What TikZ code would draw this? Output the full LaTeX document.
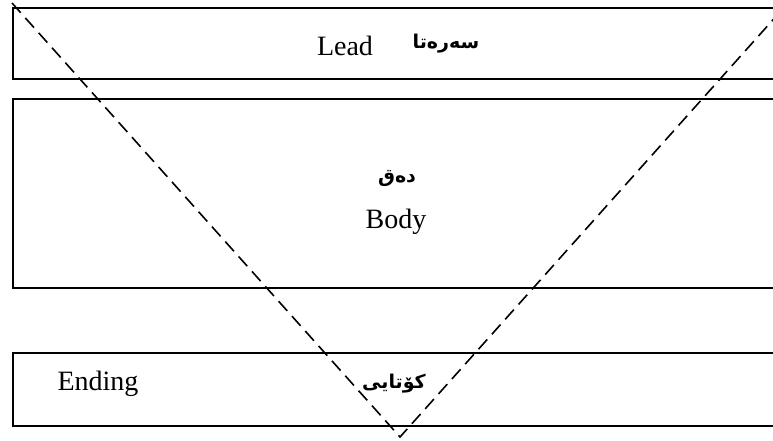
\documentclass[tikz,border=0pt]{standalone}
\usepackage{fontspec}
\setmainfont{Liberation Serif}
\newfontfamily\arabicfont[Script=Arabic]{DejaVu Sans}
\TeXXeTstate=1
\begin{document}
\begin{tikzpicture}[x=1pt,y=-1pt,
  box/.style={draw, line width=2pt, anchor=north west, inner sep=0pt},
  latin/.style={font=\fontsize{28}{30}\selectfont, inner sep=0pt, anchor=base},
  arab/.style={font=\arabicfont\bfseries\fontsize{19}{23}\selectfont, inner sep=0pt},
  vline/.style={line width=1.6pt, dash pattern=on 13pt off 7pt}]
\useasboundingbox (0,0) rectangle (773,440);
\clip (0,0) rectangle (773,440);
\node[box, minimum width=780pt, minimum height=71pt] (leadbox) at (12,7) {};
\node[box, minimum width=780pt, minimum height=189pt] (bodybox) at (12,98) {};
\node[box, minimum width=780pt, minimum height=73pt] (endbox) at (12,352) {};
\node[latin] (lead) at (345,55) {Lead};
\node[arab] (leadar) at (446,44) {\beginR سەرەتا\endR};
\node[arab] (bodyar) at (397,179) {\beginR دەق\endR};
\node[latin] (body) at (396,228) {Body};
\node[latin] (ending) at (98,390) {Ending};
\node[arab] (endar) at (394,384) {\beginR کۆتایی\endR};
\coordinate (tl) at (12,3);
\coordinate (apex) at (400,437);
\coordinate (tr) at (788,3);
\draw[vline] (tl) -- (apex) -- (tr);
\end{tikzpicture}
\end{document}
